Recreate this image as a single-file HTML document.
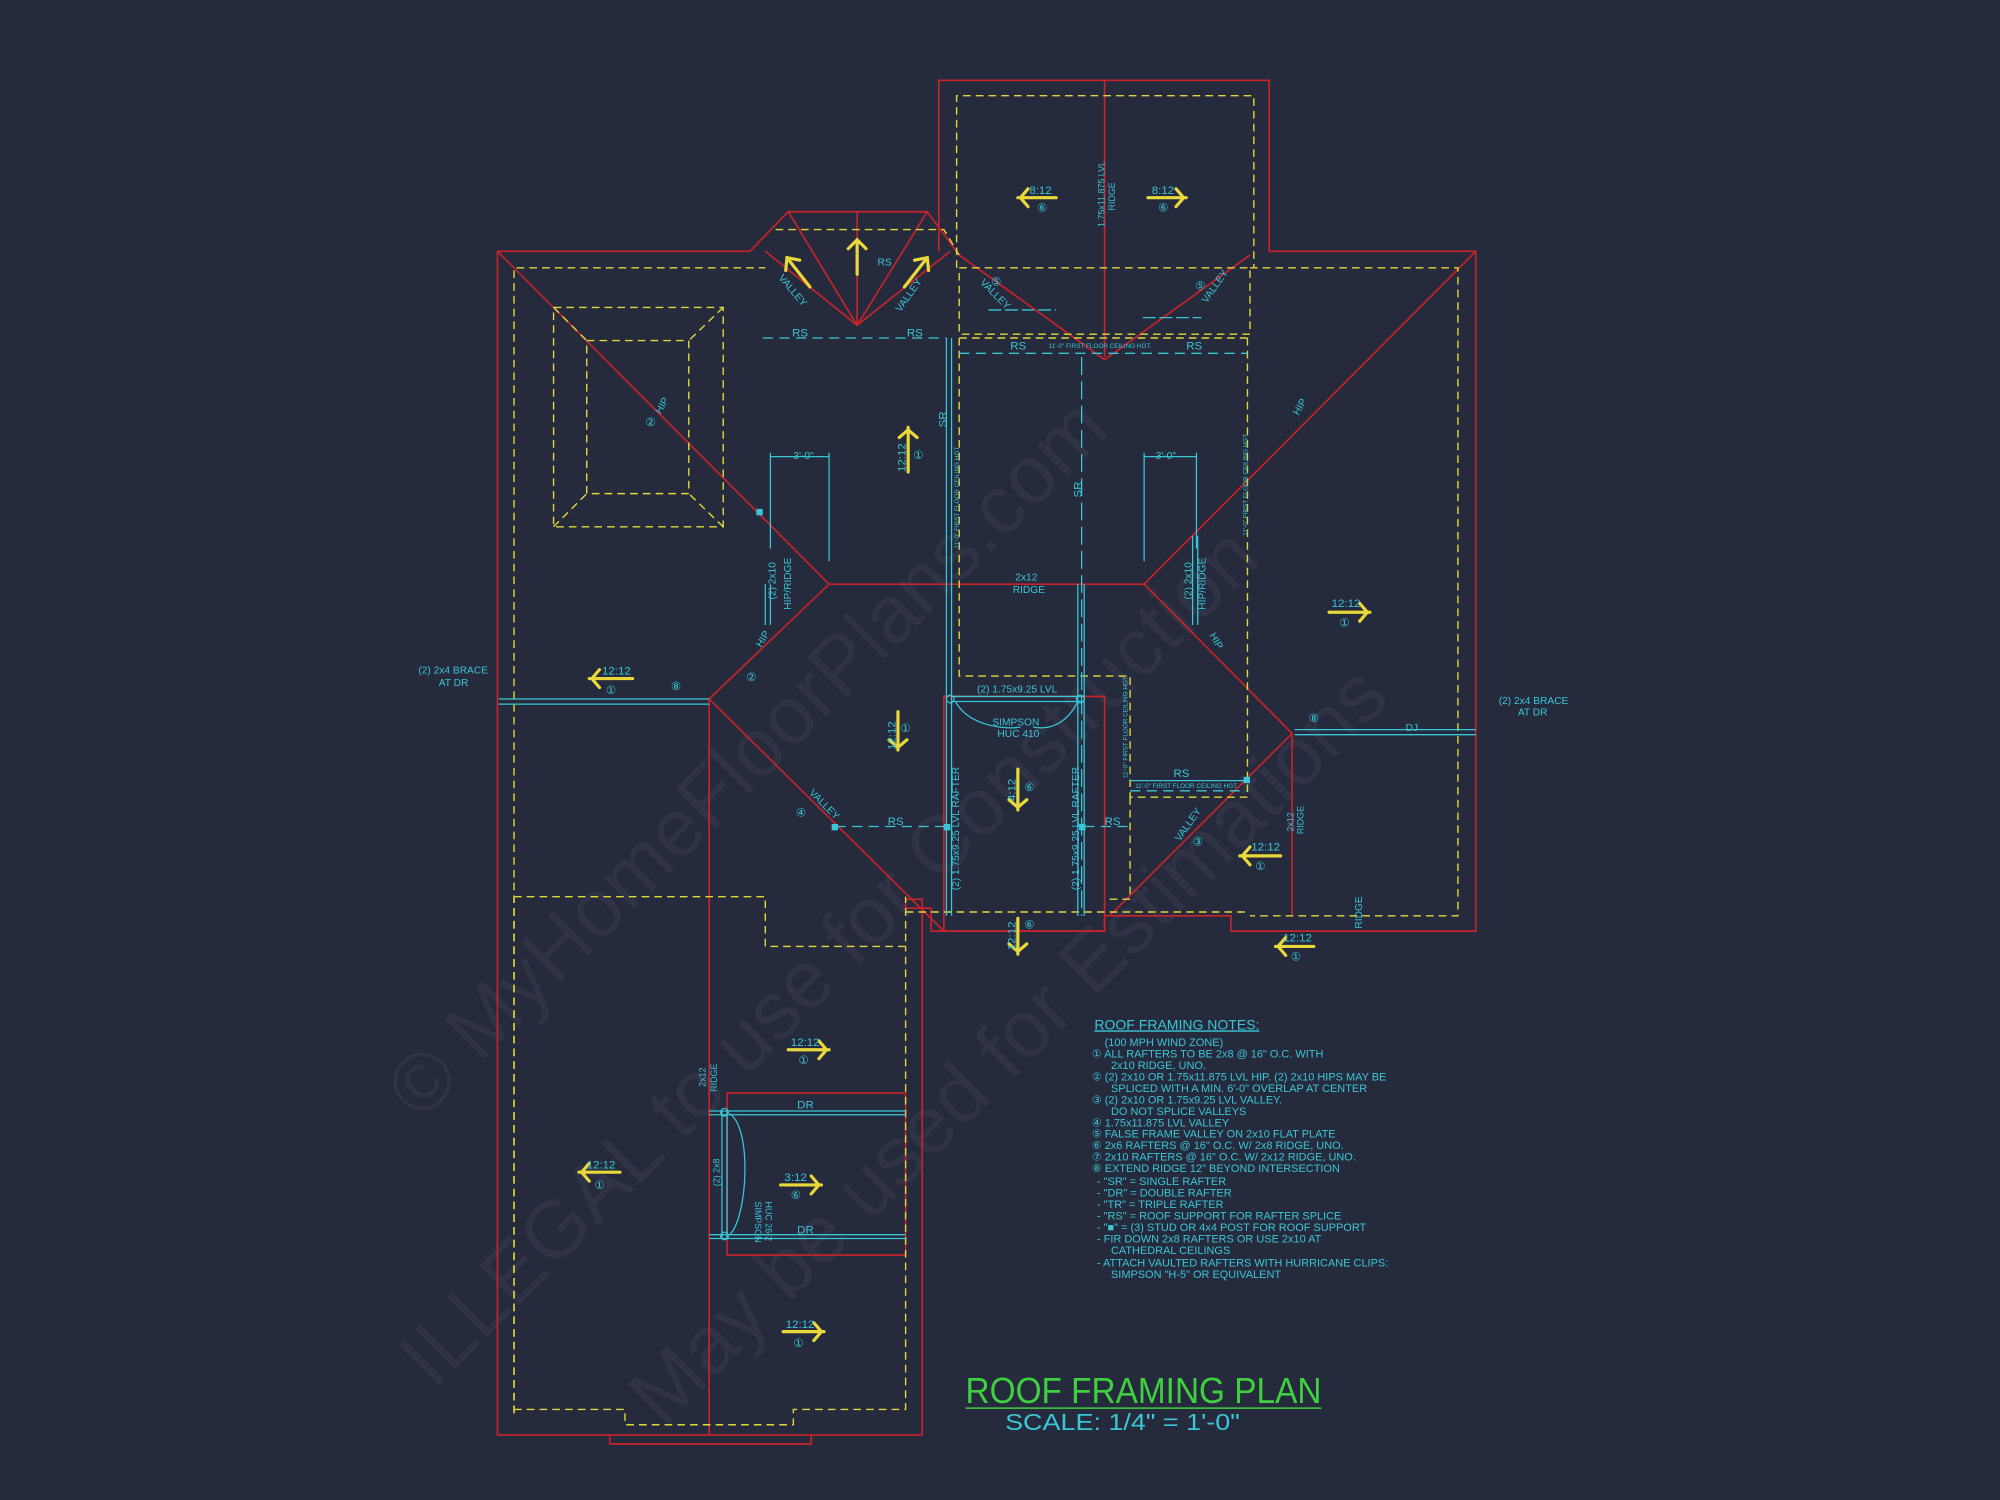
<!DOCTYPE html>
<html><head><meta charset="utf-8"><style>
html,body{margin:0;padding:0;background:#262a3d;}
svg{display:block}
text{font-family:"Liberation Sans",sans-serif;}
</style></head><body>
<svg width="2000" height="1500" viewBox="0 0 1568 1176" preserveAspectRatio="none" xmlns="http://www.w3.org/2000/svg">
<rect width="1568" height="1176" fill="#262a3d"/>
<!-- watermark -->
<g fill="#ffffff" fill-opacity="0.045" font-family="Liberation Serif" font-size="64">
<text transform="translate(330,880) rotate(-45)">© MyHomeFloorPlans.com</text>
<text transform="translate(340,1090) rotate(-45)">ILLEGAL to use for Construction</text>
<text transform="translate(520,1120) rotate(-45)">May be used for Estimations</text>
</g>
<!-- RED lines -->
<g fill="none" stroke="#c8232b" stroke-width="1.3">
<polyline points="736,197 736,63 995,63 995,197"/>
<polyline points="390,197 588,197 618,166 727,166 752,200"/>
<polyline points="995,197 1157,197 1157,730 965,730 965,718 866,718 866,730 730,730 730,712 710,712 710,705 723,705 723,1125 390,1125 390,197"/>
<polyline points="478,1125 478,1132 636,1132 636,1125"/>
<line x1="866" y1="63" x2="866" y2="280"/>
<polyline points="752,200 866,282 980,200"/>
<polyline points="600,197 672,255 745,197"/>
<polyline points="618,166 672,255 727,166"/>
<line x1="672" y1="166" x2="672" y2="255"/>
<polyline points="390,197 650,458 897,458 1157,197"/>
<polyline points="650,458 556,548 740,730"/>
<line x1="556" y1="548" x2="556" y2="1125"/>
<polyline points="897,458 1013,575 870,718"/>
<line x1="1013" y1="575" x2="1013" y2="718"/>
<rect x="570" y="857" width="140" height="127"/>
<rect x="740" y="546" width="126" height="184"/>
</g>
<!-- YELLOW dashed -->
<g fill="none" stroke="#e0d83a" stroke-width="1.1" stroke-dasharray="6,4">
<polyline points="403,1108 403,210 600,210"/>
<polyline points="750,210 750,75 983,75 983,210"/>
<polyline points="608,180 740,180 752,200"/>
<rect x="752" y="210" width="228" height="52"/>
<polyline points="980,210 1143,210 1143,718 980,718"/>
<line x1="752" y1="265" x2="980" y2="265"/>
<polyline points="752,265 752,530 886,530 886,625 978,625 978,265"/>
<polyline points="886,625 886,705 870,705"/>
<rect x="434" y="241" width="133" height="172"/>
<rect x="460" y="267" width="80" height="120"/>
<line x1="434" y1="241" x2="460" y2="267"/><line x1="567" y1="241" x2="540" y2="267"/>
<line x1="434" y1="413" x2="460" y2="387"/><line x1="567" y1="413" x2="540" y2="387"/>
<polyline points="403,703 600,703 600,742 710,742 710,703"/>
<polyline points="710,715 980,715"/>
<polyline points="403,1108 403,703"/>
<polyline points="403,1105 490,1105 490,1117 622,1117 622,1105 710,1105 710,742"/>
</g>
<!-- CYAN lines -->
<g fill="none" stroke="#39c6d6" stroke-width="1">
<line x1="598" y1="265" x2="742" y2="265" stroke-dasharray="8,5"/>
<line x1="752" y1="277" x2="978" y2="277" stroke-dasharray="8,5"/>
<line x1="742" y1="265" x2="742" y2="718"/><line x1="746" y1="265" x2="746" y2="718"/>
<line x1="848" y1="280" x2="848" y2="718" stroke-dasharray="14,5"/>
<line x1="845" y1="458" x2="845" y2="718"/><line x1="850" y1="458" x2="850" y2="718"/>
<line x1="391" y1="548" x2="556" y2="548"/><line x1="391" y1="552" x2="556" y2="552"/>
<line x1="1015" y1="572" x2="1157" y2="572"/><line x1="1015" y1="576" x2="1157" y2="576"/>
<line x1="600" y1="458" x2="600" y2="490"/><line x1="604" y1="458" x2="604" y2="490"/>
<line x1="604" y1="355" x2="604" y2="430"/><line x1="650" y1="355" x2="650" y2="440"/><line x1="604" y1="358" x2="650" y2="358"/>
<line x1="897" y1="355" x2="897" y2="440"/><line x1="938" y1="355" x2="938" y2="430"/><line x1="897" y1="358" x2="938" y2="358"/>
<line x1="935" y1="420" x2="935" y2="490"/><line x1="939" y1="420" x2="939" y2="490"/>
<line x1="746" y1="546" x2="848" y2="546"/><line x1="746" y1="550" x2="848" y2="550"/>
<line x1="655" y1="648" x2="742" y2="648" stroke-dasharray="8,5"/>
<line x1="850" y1="648" x2="886" y2="648" stroke-dasharray="8,5"/>
<line x1="886" y1="612" x2="978" y2="612"/>
<line x1="886" y1="620" x2="978" y2="620" stroke-dasharray="8,5"/>
<line x1="556" y1="871" x2="710" y2="871"/><line x1="556" y1="874" x2="710" y2="874"/>
<line x1="556" y1="968" x2="710" y2="968"/><line x1="556" y1="971" x2="710" y2="971"/>
<line x1="566" y1="871" x2="566" y2="971"/><line x1="570" y1="871" x2="570" y2="971"/>
<path d="M572,873 C590,885 586,955 572,968"/>
<path d="M749,550 C760,570 790,572 800,570 M845,550 C835,570 820,572 810,570"/>
<circle cx="568" cy="872" r="3"/><circle cx="568" cy="969" r="3"/>
<circle cx="745" cy="548" r="3"/><circle cx="847" cy="548" r="3"/>
<line x1="775" y1="243" x2="828" y2="243" stroke-dasharray="10,3"/>
<line x1="896" y1="249" x2="942" y2="249" stroke-dasharray="10,3"/>
</g>
<g fill="#39c6d6"><rect x="593" y="399" width="5" height="5"/><rect x="652" y="646" width="5" height="5"/><rect x="740" y="646" width="5" height="5"/><rect x="846" y="646" width="5" height="5"/><rect x="975" y="609" width="5" height="5"/></g>
<!-- Arrows -->
<g stroke="#e8d83a" stroke-width="2.5" fill="none" stroke-linecap="round">
<path d="M798,155 H828 M806,148 L800,155 L806,162"/>
<path d="M900,155 H930 M922,148 L928,155 L922,162"/>
<path d="M462,532 H496 M470,525 L464,532 L470,539"/>
<path d="M1042,480 H1074 M1066,473 L1072,480 L1066,487"/>
<path d="M712,335 V370 M705,343 L712,337 L719,343"/>
<path d="M704,558 V588 M697,580 L704,586 L711,580"/>
<path d="M798,603 V635 M791,627 L798,633 L805,627"/>
<path d="M798,720 V748 M791,740 L798,746 L805,740"/>
<path d="M972,671 H1004 M980,664 L974,671 L980,678"/>
<path d="M1000,742 H1030 M1008,735 L1002,742 L1008,749"/>
<path d="M618,823 H650 M642,816 L648,823 L642,830"/>
<path d="M454,919 H486 M462,912 L456,919 L462,926"/>
<path d="M612,929 H644 M636,922 L642,929 L636,936"/>
<path d="M614,1044 H646 M638,1037 L644,1044 L638,1051"/>
<path d="M672,188 V215 M665,195 L672,188 L679,195"/>
<path d="M617,202 L635,225 M616,212 L617,202 L627,204"/>
<path d="M727,202 L709,225 M728,212 L727,202 L717,204"/>
</g>
<!-- Cyan labels -->
<g fill="#39c6d6" font-size="9">
<text x="807" y="152">8:12</text><text x="903" y="152">8:12</text>
<text x="813" y="166">⑥</text><text x="908" y="166">⑥</text>
<text transform="translate(866,178) rotate(-90)" font-size="7">1.75x11.875 LVL</text>
<text transform="translate(874,165) rotate(-90)" font-size="7">RIDGE</text>
<text x="472" y="529">12:12</text><text x="475" y="544">①</text>
<text x="1044" y="476">12:12</text><text x="1050" y="491">①</text>
<text x="981" y="667">12:12</text><text x="984" y="682">①</text>
<text x="1006" y="738">12:12</text><text x="1012" y="753">①</text>
<text x="620" y="820">12:12</text><text x="626" y="834">①</text>
<text x="460" y="916">12:12</text><text x="466" y="932">①</text>
<text x="615" y="926">3:12</text><text x="620" y="940">⑥</text>
<text x="616" y="1041">12:12</text><text x="622" y="1056">①</text>
<text transform="translate(710,370) rotate(-90)">12:12</text><text x="716" y="360">①</text>
<text transform="translate(702,588) rotate(-90)">12:12</text><text x="706" y="574">①</text>
<text transform="translate(796,628) rotate(-90)">4:12</text><text x="803" y="620">⑥</text>
<text transform="translate(796,745) rotate(-90)">12:12</text><text x="803" y="728">⑥</text>
<text x="621" y="264">RS</text><text x="711" y="264">RS</text>
<text x="792" y="274">RS</text><text x="930" y="274">RS</text>
<text x="822" y="273" font-size="5">11'-0" FIRST FLOOR CEILING HGT.</text>
<text x="696" y="647">RS</text><text x="866" y="647">RS</text><text x="920" y="609">RS</text>
<text x="890" y="618" font-size="5">11'-0" FIRST FLOOR CEILING HGT.</text>
<text x="622" y="360" font-size="8">3'-0"</text><text x="906" y="360" font-size="8">3'-0"</text>
<text x="796" y="455" font-size="8">2x12</text><text x="794" y="465" font-size="8">RIDGE</text>
<text transform="translate(742,335) rotate(-90)" font-size="9">SR</text>
<text transform="translate(848,390) rotate(-90)" font-size="9">SR</text>
<text transform="translate(752,430) rotate(-90)" font-size="5">11'-0" FIRST FLOOR CEILING HGT.</text>
<text transform="translate(978,420) rotate(-90)" font-size="5">11'-0" FIRST FLOOR CEILING HGT.</text>
<text transform="translate(884,610) rotate(-90)" font-size="5">11'-0" FIRST FLOOR CEILING HGT.</text>
<text transform="translate(608,470) rotate(-90)" font-size="8">(2) 2x10</text>
<text transform="translate(620,478) rotate(-90)" font-size="8">HIP/RIDGE</text>
<text transform="translate(934,470) rotate(-90)" font-size="8">(2) 2x10</text>
<text transform="translate(945,478) rotate(-90)" font-size="8">HIP/RIDGE</text>
<text transform="translate(597,508) rotate(-60)" font-size="8">HIP</text>
<text transform="translate(518,325) rotate(-60)" font-size="8">HIP</text>
<text transform="translate(1018,326) rotate(-60)" font-size="8">HIP</text>
<text transform="translate(948,498) rotate(60)" font-size="8">HIP</text>
<text x="506" y="334">②</text><text x="585" y="534">②</text>
<text transform="translate(634,622) rotate(45)" font-size="8">VALLEY</text><text x="624" y="640">④</text>
<text transform="translate(925,660) rotate(-55)" font-size="8">VALLEY</text><text x="935" y="663">③</text>
<text transform="translate(768,222) rotate(45)" font-size="8">VALLEY</text><text x="777" y="224">⑤</text>
<text transform="translate(946,238) rotate(-55)" font-size="8">VALLEY</text><text x="937" y="227">⑤</text>
<text transform="translate(610,218) rotate(50)" font-size="8">VALLEY</text>
<text transform="translate(706,245) rotate(-55)" font-size="8">VALLEY</text>
<text x="688" y="208" font-size="8">RS</text>
<text x="526" y="541">⑧</text><text x="1026" y="566">⑧</text>
<text x="1102" y="573" font-size="8">DJ</text>
<text x="328" y="528" font-size="8">(2) 2x4 BRACE</text><text x="344" y="538" font-size="8">AT DR</text>
<text x="1175" y="552" font-size="8">(2) 2x4 BRACE</text><text x="1190" y="561" font-size="8">AT DR</text>
<text x="766" y="543" font-size="8">(2) 1.75x9.25 LVL</text>
<text x="778" y="569" font-size="8">SIMPSON</text><text x="782" y="578" font-size="8">HUC 410</text>
<text transform="translate(752,698) rotate(-90)" font-size="8">(2) 1.75x9.25 LVL RAFTER</text>
<text transform="translate(846,698) rotate(-90)" font-size="8">(2) 1.75x9.25 LVL RAFTER</text>
<text transform="translate(1014,652) rotate(-90)" font-size="7">2x12</text>
<text transform="translate(1022,654) rotate(-90)" font-size="7">RIDGE</text>
<text transform="translate(1068,728) rotate(-90)" font-size="8">RIDGE</text>
<text transform="translate(553,852) rotate(-90)" font-size="7">2x12</text>
<text transform="translate(562,856) rotate(-90)" font-size="7">RIDGE</text>
<text x="625" y="869" font-size="9">DR</text><text x="625" y="967" font-size="9">DR</text>
<text transform="translate(564,930) rotate(-90)" font-size="7">(2) 2x8</text>
<text transform="translate(592,942) rotate(90)" font-size="7">SIMPSON</text>
<text transform="translate(600,942) rotate(90)" font-size="7">HUC 26-2</text>
</g>
<!-- Notes -->
<g fill="#39c6d6" font-size="8.6">
<text x="858" y="807" font-size="11" text-decoration="underline">ROOF FRAMING NOTES:</text>
<text x="866" y="820">(100 MPH WIND ZONE)</text>
<text x="856" y="829">①  ALL RAFTERS TO BE 2x8 @ 16" O.C. WITH</text>
<text x="871" y="838">2x10 RIDGE, UNO.</text>
<text x="856" y="847">②  (2) 2x10 OR 1.75x11.875 LVL HIP. (2) 2x10 HIPS MAY BE</text>
<text x="871" y="856">SPLICED WITH A MIN. 6'-0" OVERLAP AT CENTER</text>
<text x="856" y="865">③  (2) 2x10 OR 1.75x9.25 LVL VALLEY.</text>
<text x="871" y="874">DO NOT SPLICE VALLEYS</text>
<text x="856" y="883">④  1.75x11.875 LVL VALLEY</text>
<text x="856" y="892">⑤  FALSE FRAME VALLEY ON 2x10 FLAT PLATE</text>
<text x="856" y="901">⑥  2x6 RAFTERS @ 16" O.C. W/ 2x8 RIDGE, UNO.</text>
<text x="856" y="910">⑦  2x10 RAFTERS @ 16" O.C. W/ 2x12 RIDGE, UNO.</text>
<text x="856" y="919">⑧  EXTEND RIDGE 12" BEYOND INTERSECTION</text>
<text x="860" y="929">-   "SR" = SINGLE RAFTER</text>
<text x="860" y="938">-   "DR" = DOUBLE RAFTER</text>
<text x="860" y="947">-   "TR" = TRIPLE RAFTER</text>
<text x="860" y="956">-   "RS" = ROOF SUPPORT FOR RAFTER SPLICE</text>
<text x="860" y="965">-   "■"  = (3) STUD OR 4x4 POST FOR ROOF SUPPORT</text>
<text x="860" y="974">-   FIR DOWN 2x8 RAFTERS OR USE 2x10 AT</text>
<text x="871" y="983">CATHEDRAL CEILINGS</text>
<text x="860" y="993">-   ATTACH VAULTED RAFTERS WITH HURRICANE CLIPS:</text>
<text x="871" y="1002">SIMPSON "H-5" OR EQUIVALENT</text>
</g>
<text x="757" y="1100" fill="#3fd03f" font-size="28" textLength="279" lengthAdjust="spacingAndGlyphs">ROOF FRAMING PLAN</text>
<line x1="757" y1="1104" x2="1036" y2="1104" stroke="#3fd03f" stroke-width="1.2"/>
<text x="788" y="1121" fill="#39c6d6" font-size="18" textLength="184" lengthAdjust="spacingAndGlyphs">SCALE: 1/4" = 1'-0"</text>
</svg>
</body></html>
